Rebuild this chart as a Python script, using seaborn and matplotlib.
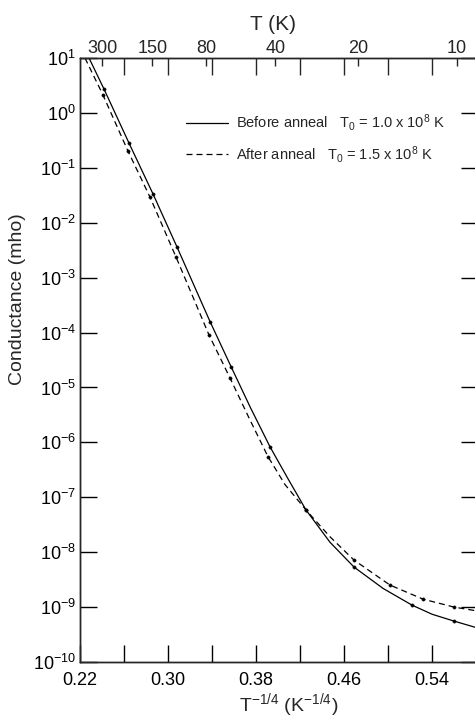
import numpy as np
import pandas as pd
import seaborn as sns
import matplotlib
matplotlib.use("Agg")
import matplotlib.pyplot as plt
from matplotlib.lines import Line2D
from matplotlib.ticker import FixedLocator, NullLocator, NullFormatter

# T^-1/4 (K^-1/4) e log10 da condutância
x_antes = [0.2282, 0.2418, 0.2645, 0.2864, 0.3082, 0.3382, 0.3573, 0.3750,
           0.3927, 0.4090, 0.4255, 0.4473, 0.4691, 0.4955, 0.5218, 0.5400,
           0.5600, 0.5818]
logg_antes = [1.0, 0.435, -0.548, -1.477, -2.443, -3.800, -4.620, -5.370,
              -6.080, -6.660, -7.233, -7.820, -8.271, -8.660, -8.964, -9.130,
              -9.255, -9.383]

x_depois = [0.2245, 0.2409, 0.2636, 0.2836, 0.3073, 0.3373, 0.3564, 0.3740,
            0.3909, 0.4064, 0.4255, 0.4473, 0.4691, 0.5018, 0.5318, 0.5600,
            0.5818]
logg_depois = [1.0, 0.326, -0.694, -1.532, -2.625, -4.046, -4.829, -5.570,
               -6.260, -6.770, -7.233, -7.720, -8.144, -8.599, -8.855, -9.000,
               -9.073]

# pontos medidos (bolinhas)
pts_x_antes = [0.2418, 0.2645, 0.2864, 0.3082, 0.3382, 0.3573, 0.3927,
               0.4255, 0.4691, 0.5218, 0.5600]
pts_g_antes = [0.435, -0.548, -1.477, -2.443, -3.800, -4.620, -6.080,
               -7.233, -8.271, -8.964, -9.255]
pts_x_depois = [0.2409, 0.2636, 0.2836, 0.3073, 0.3373, 0.3564, 0.3909,
                0.4255, 0.4691, 0.5018, 0.5318, 0.5600]
pts_g_depois = [0.326, -0.694, -1.532, -2.625, -4.046, -4.829, -6.260,
                -7.233, -8.144, -8.599, -8.855, -9.000]

xticks_baixo = [0.22, 0.30, 0.38, 0.46, 0.54]
xticks_menores = [0.26, 0.34, 0.42, 0.50, 0.58]
xticks_topo_longos = [0.26, 0.30, 0.34, 0.38, 0.42, 0.46, 0.50, 0.54, 0.58]
temps_topo = [300, 150, 80, 40, 20, 10]

rotulo_antes = r"Before anneal   $T_0$ = 1.0 x 10$^8$ K"
rotulo_depois = r"After anneal   $T_0$ = 1.5 x 10$^8$ K"

df = pd.concat([
    pd.DataFrame({"x": x_antes, "G": np.power(10.0, logg_antes), "serie": "antes"}),
    pd.DataFrame({"x": x_depois, "G": np.power(10.0, logg_depois), "serie": "depois"}),
])
df_pts = pd.concat([
    pd.DataFrame({"x": pts_x_antes, "G": np.power(10.0, pts_g_antes), "serie": "antes"}),
    pd.DataFrame({"x": pts_x_depois, "G": np.power(10.0, pts_g_depois), "serie": "depois"}),
])

sns.set_theme(style="ticks")
plt.rcParams["font.family"] = ["Liberation Sans", "DejaVu Sans"]
plt.rcParams["mathtext.default"] = "regular"

tracejado = (0, (4.8, 3.2))

fig = plt.figure(figsize=(4.75, 7.27), dpi=100)
ax = fig.add_axes([80 / 475, 65 / 727, 398 / 475, 604 / 727])

sns.lineplot(data=df, x="x", y="G", hue="serie", style="serie",
             palette=["black", "black"], dashes={"antes": "", "depois": tracejado[1]},
             estimator=None, sort=False, lw=0.9, legend=False, ax=ax)
sns.scatterplot(data=df_pts, x="x", y="G", color="black", s=6,
                edgecolor=None, legend=False, ax=ax, zorder=3)

ax.set_yscale("log")
ax.set_xlim(0.22, 0.5818)
ax.set_ylim(1e-10, 1e1)

ax.yaxis.set_major_locator(FixedLocator([10.0 ** k for k in range(-10, 2)]))
ax.yaxis.set_minor_locator(NullLocator())
ax.set_xticks(xticks_baixo)
ax.set_xticklabels([f"{v:.2f}" for v in xticks_baixo])
ax.xaxis.set_minor_locator(FixedLocator(xticks_menores))

for s in ax.spines.values():
    s.set_linewidth(1.0)
    s.set_color("black")
ax.tick_params(axis="both", which="both", direction="in", length=12, width=1.0,
               colors="black", labelsize=13)
ax.tick_params(axis="y", right=True, pad=3)
ax.tick_params(axis="x", which="both", top=False, pad=7)

ax.set_xlabel(r"T$^{-1/4}$ (K$^{-1/4}$)", fontsize=14)
ax.xaxis.set_label_coords(0.525, -0.048)
ax.set_ylabel("Conductance (mho)", fontsize=14)
ax.yaxis.set_label_coords(-0.136, 0.6)

# eixo superior em temperatura
topo = ax.twiny()
topo.set_xlim(ax.get_xlim())
topo.set_xticks([t ** -0.25 for t in temps_topo])
topo.set_xticklabels([str(t) for t in temps_topo])
topo.xaxis.set_minor_locator(FixedLocator(xticks_topo_longos))
topo.xaxis.set_minor_formatter(NullFormatter())
topo.tick_params(axis="x", which="major", direction="in", length=5.5, width=1.0,
                 labelsize=13, pad=1)
topo.tick_params(axis="x", which="minor", direction="in", length=12, width=1.0)
for s in topo.spines.values():
    s.set_linewidth(1.0)
topo.set_xlabel("T (K)", fontsize=15)
topo.xaxis.set_label_coords(0.485, 1.046)

handles = [Line2D([], [], color="black", lw=0.9),
           Line2D([], [], color="black", lw=0.9, linestyle=tracejado)]
ax.legend(handles, [rotulo_antes, rotulo_depois], loc="upper left",
          bbox_to_anchor=(0.248, 0.922), frameon=False, fontsize=10.5,
          handlelength=2.9, handletextpad=0.55, labelspacing=0.7, borderpad=0)

fig.savefig("out.png", dpi=100)
